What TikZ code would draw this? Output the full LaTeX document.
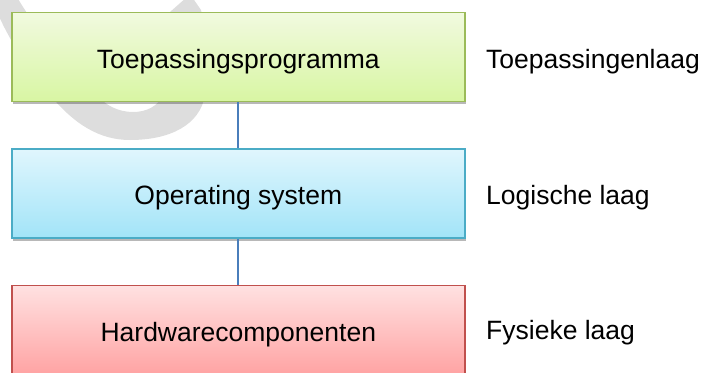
\documentclass[tikz,border=0pt]{standalone}
\usepackage{fontspec}
\setmainfont{Liberation Sans}
\usetikzlibrary{shadows}

\definecolor{appTop}{HTML}{F1FADF}
\definecolor{appBot}{HTML}{D8F6A3}
\definecolor{appEdge}{HTML}{9BBB59}
\definecolor{osTop}{HTML}{E0F6FD}
\definecolor{osBot}{HTML}{A2E4F8}
\definecolor{osEdge}{HTML}{4BACC6}
\definecolor{hwTop}{HTML}{FFE1E1}
\definecolor{hwBot}{HTML}{FFA3A3}
\definecolor{hwEdge}{HTML}{C0504D}
\definecolor{linkBlue}{HTML}{4A7EBB}
\definecolor{ringGray}{HTML}{DDDDDD}

\begin{document}
\begin{tikzpicture}[x=1pt,y=-1pt,
  layerbox/.style={rectangle, line width=1.5pt, minimum width=453pt,
    minimum height=89pt, inner sep=0pt, text height=22pt, text depth=0pt,
    font=\fontsize{26.5}{30}\selectfont,
    drop shadow={shadow xshift=1.5pt, shadow yshift=-2.5pt, opacity=0.28, fill=black}},
  appbox/.style={layerbox, draw=appEdge, top color=appTop, bottom color=appBot},
  osbox/.style={layerbox, draw=osEdge, top color=osTop, bottom color=osBot},
  hwbox/.style={layerbox, draw=hwEdge, top color=hwTop, bottom color=hwBot},
  sidelabel/.style={anchor=base west, inner sep=0pt, font=\fontsize{26.5}{30}\selectfont},
  link/.style={draw=linkBlue, line width=1.8pt}]

\useasboundingbox (0,0) rectangle (708,372);
\clip (0,0) rectangle (708,372);

% faint grey ring segment in the background
\fill[ringGray]
  (-8,-3) .. controls (-2,20) and (20,60) .. (50,95)
  .. controls (75,125) and (100,140) .. (130,140)
  .. controls (170,140) and (200,125) .. (205,95)
  .. controls (208,60) and (205,25) .. (201,10)
  -- (192,-3) -- (187,-3) -- (170,12)
  .. controls (168,50) and (168,80) .. (163,95)
  .. controls (158,106) and (147,112) .. (133,112)
  .. controls (118,112) and (105,105) .. (97,95)
  .. controls (60,60) and (30,20) .. (17,-3) -- cycle;

% the three layers
\node[appbox] (app) at (238.3,57)   {Toepassingsprogramma};
\node[osbox]  (os)  at (238.3,193.5) {Operating system};
\node[hwbox]  (hw)  at (238.3,330)   {Hardwarecomponenten};

% connectors between the layers
\draw[link] (app.south) -- (os.north);
\draw[link] (os.south) -- (hw.north);

% layer names
\node[sidelabel] (lapp) at (486,68.3) {Toepassingenlaag};
\node[sidelabel] (los)  at (486,204)  {Logische laag};
\node[sidelabel] (lhw)  at (486,339.3) {Fysieke laag};
\end{tikzpicture}
\end{document}
